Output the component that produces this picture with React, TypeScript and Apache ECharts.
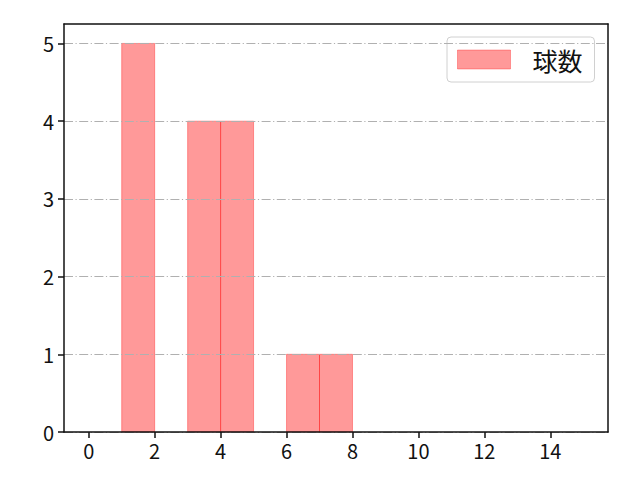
import { useEffect, useRef } from "react";
import * as echarts from "echarts";

// histogram: bins of width 1, from binStart to binStart + 1
const binStarts = [0, 1, 2, 3, 4, 5, 6, 7, 8, 9, 10, 11, 12, 13, 14];
const binCounts = [0, 5, 0, 4, 4, 0, 1, 1, 0, 0, 0, 0, 0, 0, 0];
const xTicks = [0, 2, 4, 6, 8, 10, 12, 14];
const yTicks = [0, 1, 2, 3, 4, 5];
const seriesName = "球数";

const FONT = "'Noto Sans CJK JP', 'Noto Sans', sans-serif";

export default function App() {
  const divRef = useRef<HTMLDivElement>(null);

  useEffect(() => {
    if (!divRef.current) return;
    const chart = echarts.init(divRef.current, undefined, { renderer: "svg" });

    const data = binStarts
      .map((s, i) => [s, s + 1, binCounts[i]])
      .filter((d) => d[2] > 0);

    const frameAxis = {
      show: true,
      axisLine: { show: true, onZero: false, lineStyle: { color: "#111", width: 1.5 } },
      axisTick: { show: false },
      axisLabel: { show: false },
      splitLine: { show: false },
    };

    const option = {
      animation: false,
      textStyle: { fontFamily: FONT },
      grid: { left: 64, top: 24, width: 544, height: 408, containLabel: false },
      legend: {
        left: 447,
        top: 37,
        data: [{ name: seriesName, icon: "rect" }],
        itemWidth: 53,
        itemHeight: 19,
        padding: [10, 12, 10, 10],
        borderColor: "#d0d0d0",
        borderWidth: 1,
        borderRadius: 4,
        backgroundColor: "rgba(255,255,255,0.8)",
        textStyle: {
          fontFamily: FONT,
          fontSize: 25,
          color: "#111",
          padding: [0, 0, 0, 17],
        },
        itemStyle: {
          color: "rgba(255,0,0,0.4)",
          borderColor: "rgba(255,0,0,0.3)",
          borderWidth: 1,
        },
      },
      xAxis: [
        {
          type: "value",
          min: -0.75,
          max: 15.75,
          axisLine: { show: true, onZero: false, lineStyle: { color: "#111", width: 1.5 } },
          axisTick: {
            show: true,
            length: 6,
            customValues: xTicks,
            lineStyle: { color: "#111", width: 1.5 },
          },
          axisLabel: {
            customValues: xTicks,
            color: "#111",
            fontSize: 20,
            margin: 8,
            fontFamily: FONT,
          },
          splitLine: { show: false },
          z: 10,
        },
        { ...frameAxis, type: "value", position: "top", min: -0.75, max: 15.75, z: 10 },
      ],
      yAxis: [
        {
          type: "value",
          min: 0,
          max: 5.25,
          interval: 1,
          axisLine: { show: true, onZero: false, lineStyle: { color: "#111", width: 1.5 } },
          axisTick: {
            show: true,
            length: 6,
            customValues: yTicks,
            lineStyle: { color: "#111", width: 1.5 },
          },
          axisLabel: {
            customValues: yTicks,
            color: "#111",
            fontSize: 20,
            margin: 10,
            fontFamily: FONT,
          },
          splitLine: {
            show: true,
            lineStyle: { color: "#b0b0b0", width: 1, type: [9, 2.5, 1.2, 2.5] },
          },
          z: 10,
        },
        { ...frameAxis, type: "value", position: "right", min: 0, max: 5.25, z: 10 },
      ],
      series: [
        {
          name: seriesName,
          type: "custom",
          data,
          encode: { x: [0, 1], y: 2 },
          renderItem: (params: any, api: any) => {
            const p0 = api.coord([api.value(0), 0]);
            const p1 = api.coord([api.value(1), api.value(2)]);
            return {
              type: "rect",
              shape: { x: p0[0], y: p1[1], width: p1[0] - p0[0], height: p0[1] - p1[1] },
              style: {
                fill: "rgba(255,0,0,0.4)",
                stroke: "rgba(255,0,0,0.35)",
                lineWidth: 1,
              },
            };
          },
          itemStyle: { color: "rgba(255,0,0,0.4)" },
        },
      ],
    };

    chart.setOption(option);
    return () => chart.dispose();
  }, []);

  return <div ref={divRef} style={{ width: 640, height: 480, margin: -8 }} />;
}
